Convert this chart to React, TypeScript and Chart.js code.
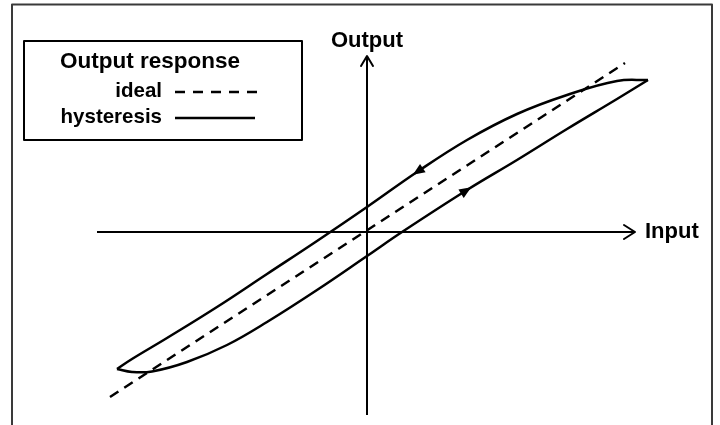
import React, { useEffect, useRef } from "react";
import { Chart, registerables } from "chart.js";

Chart.register(...registerables);

// ---- data (arbitrary units, origin at the axes crossing) ----
const idealX = [-25.7, 25.8];
const idealY = [-16.5, 16.9];

// descending branch (from the right tip back to the left tip)
const upperX = [28.1, 25.0, 20.0, 15.0, 10.0, 5.0, 0.0, -5.0, -10.0, -15.0, -20.0, -23.5, -25.0];
const upperY = [15.2, 15.1, 13.7, 11.8, 9.2, 6.0, 2.5, -0.9, -4.2, -7.5, -10.6, -12.7, -13.7];

// ascending branch (from the left tip to the right tip)
const lowerX = [-25.0, -23.5, -21.5, -18.0, -14.0, -10.0, -5.0, 0.0, 3.5, 10.0, 15.0, 20.0, 25.0, 28.1];
const lowerY = [-13.7, -14.0, -13.95, -13.0, -11.3, -9.0, -5.8, -2.4, 0.0, 4.2, 7.2, 10.3, 13.3, 15.2];

// direction arrows: index of the point on each branch
const upperArrowIndex = 5;
const lowerArrowIndex = 9;

const axisXRange = [-27.0, 26.8];
const axisYRange = [-18.3, 17.6];

const legendTitle = "Output response";
const idealLabel = "ideal";
const hysteresisLabel = "hysteresis";
const xAxisTitle = "Input";
const yAxisTitle = "Output";

const FONT = "'Liberation Sans', Arial, sans-serif";

const zip = (xs: number[], ys: number[]) => xs.map((x, i) => ({ x, y: ys[i] }));

export default function App() {
  const ref = useRef<HTMLCanvasElement>(null);

  useEffect(() => {
    if (!ref.current) return;

    const decor = {
      id: "decor",
      afterDatasetsDraw(chart: any) {
        const ctx = chart.ctx as CanvasRenderingContext2D;
        const xs = chart.scales.x;
        const ys = chart.scales.y;
        const px = (v: number) => xs.getPixelForValue(v);
        const py = (v: number) => ys.getPixelForValue(v);
        ctx.save();
        ctx.fillStyle = "#000";
        ctx.lineCap = "round";
        ctx.lineJoin = "round";

        // frame
        ctx.strokeStyle = "#3a3a3a";
        ctx.lineWidth = 2;
        ctx.beginPath();
        ctx.moveTo(12, 430);
        ctx.lineTo(12, 4.5);
        ctx.lineTo(712, 4.5);
        ctx.lineTo(712, 430);
        ctx.stroke();
        ctx.strokeStyle = "#000";

        // axis arrowheads (open chevrons)
        const xTip = px(axisXRange[1]);
        const y0 = py(0);
        ctx.lineWidth = 2;
        ctx.beginPath();
        ctx.moveTo(xTip - 11, y0 - 7);
        ctx.lineTo(xTip, y0);
        ctx.lineTo(xTip - 11, y0 + 7);
        ctx.stroke();
        const yTip = py(axisYRange[1]);
        const x0 = px(0);
        ctx.beginPath();
        ctx.moveTo(x0 - 6, yTip + 10);
        ctx.lineTo(x0, yTip);
        ctx.lineTo(x0 + 6, yTip + 10);
        ctx.stroke();

        // axis titles
        ctx.font = `bold 22px ${FONT}`;
        ctx.textBaseline = "middle";
        ctx.textAlign = "left";
        ctx.fillText(xAxisTitle, xTip + 10, y0);
        ctx.textAlign = "center";
        ctx.fillText(yAxisTitle, x0, yTip - 15);

        // curve direction arrows (filled triangles), pointing along travel direction
        const drawArrow = (xsArr: number[], ysArr: number[], i: number) => {
          const ax = px(xsArr[i]);
          const ay = py(ysArr[i]);
          const bx = px(xsArr[i - 1]);
          const by = py(ysArr[i - 1]);
          const cx = px(xsArr[i + 1]);
          const cy = py(ysArr[i + 1]);
          let dx = cx - bx;
          let dy = cy - by;
          const len = Math.hypot(dx, dy);
          dx /= len;
          dy /= len;
          const nx = -dy;
          const ny = dx;
          const tx = ax + dx * 5;
          const ty = ay + dy * 5;
          const bxx = ax - dx * 7;
          const byy = ay - dy * 7;
          ctx.beginPath();
          ctx.moveTo(tx, ty);
          ctx.lineTo(bxx + nx * 5, byy + ny * 5);
          ctx.lineTo(bxx - nx * 5, byy - ny * 5);
          ctx.closePath();
          ctx.fill();
        };
        drawArrow(upperX, upperY, upperArrowIndex);
        drawArrow(lowerX, lowerY, lowerArrowIndex);

        // legend box
        ctx.lineWidth = 2;
        ctx.lineCap = "butt";
        ctx.strokeRect(24, 41, 278, 99);
        ctx.textBaseline = "alphabetic";
        ctx.textAlign = "left";
        ctx.font = `bold 22.5px ${FONT}`;
        ctx.fillText(legendTitle, 60, 68);
        ctx.font = `bold 20.5px ${FONT}`;
        ctx.textAlign = "right";
        ctx.fillText(idealLabel, 162, 97);
        ctx.fillText(hysteresisLabel, 162, 123);
        ctx.lineWidth = 2.5;
        ctx.setLineDash([10, 8]);
        ctx.beginPath();
        ctx.moveTo(175, 92);
        ctx.lineTo(257, 92);
        ctx.stroke();
        ctx.setLineDash([]);
        ctx.lineWidth = 2.5;
        ctx.beginPath();
        ctx.moveTo(175, 118);
        ctx.lineTo(255, 118);
        ctx.stroke();
        ctx.restore();
      },
    };

    const chart = new Chart(ref.current, {
      type: "scatter",
      data: {
        datasets: [
          {
            label: "x axis",
            data: zip(axisXRange, [0, 0]),
            showLine: true,
            borderColor: "#000",
            borderWidth: 2,
            pointRadius: 0,
          },
          {
            label: "y axis",
            data: zip([0, 0], axisYRange),
            showLine: true,
            borderColor: "#000",
            borderWidth: 2,
            pointRadius: 0,
          },
          {
            label: idealLabel,
            data: zip(idealX, idealY),
            showLine: true,
            borderColor: "#000",
            borderWidth: 2.5,
            borderDash: [10, 7],
            pointRadius: 0,
          },
          {
            label: hysteresisLabel,
            data: zip(upperX, upperY),
            showLine: true,
            borderColor: "#000",
            borderWidth: 2.5,
            tension: 0.4,
            pointRadius: 0,
          },
          {
            label: hysteresisLabel + " (rising)",
            data: zip(lowerX, lowerY),
            showLine: true,
            borderColor: "#000",
            borderWidth: 2.5,
            tension: 0.4,
            pointRadius: 0,
          },
        ],
      },
      options: {
        responsive: false,
        animation: false,
        layout: { padding: 0 },
        plugins: { legend: { display: false }, tooltip: { enabled: false } },
        scales: {
          x: { type: "linear", display: false, min: -36.7, max: 35.3 },
          y: { type: "linear", display: false, min: -19.3, max: 23.2 },
        },
      },
      plugins: [decor],
    });
    return () => chart.destroy();
  }, []);

  return (
    <div style={{ position: "fixed", left: 0, top: 0, width: 720, height: 425, background: "#fff" }}>
      <canvas ref={ref} width={720} height={425} />
    </div>
  );
}
